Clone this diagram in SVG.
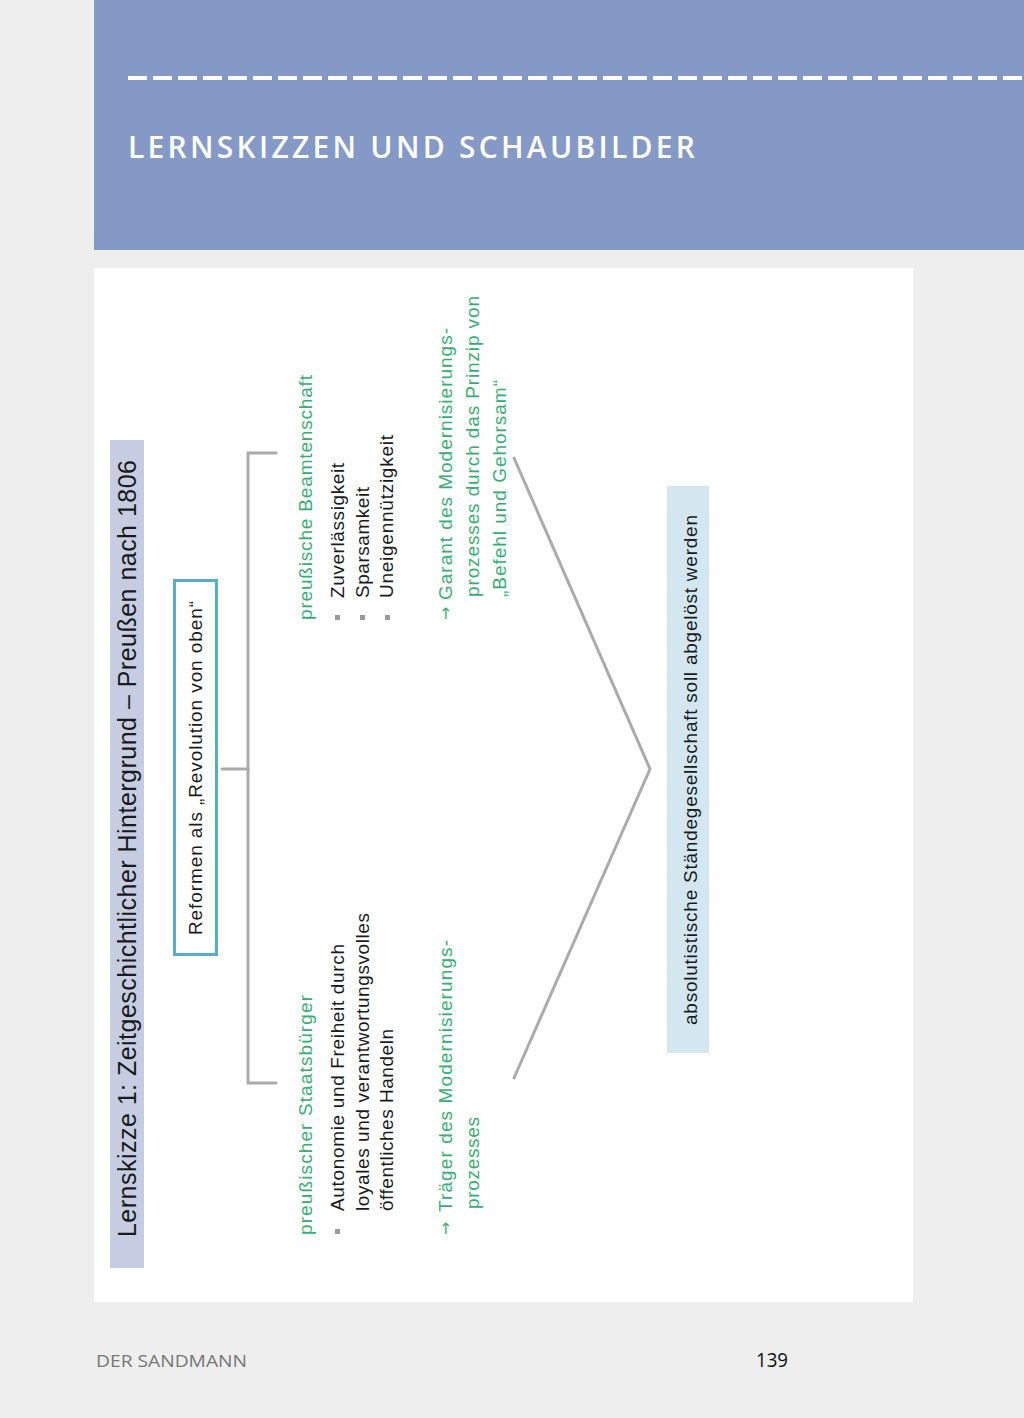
<svg xmlns="http://www.w3.org/2000/svg" width="1024" height="1418" viewBox="0 0 1024 1418">
<style>
.t{font-family:"Liberation Sans",Arial,sans-serif;font-size:19px;fill:#1a1a1a}
.g{font-family:"Liberation Sans",Arial,sans-serif;font-size:19px;fill:#36ad74}
.ar{font-family:"DejaVu Sans",sans-serif;font-size:16px}
.ln{fill:none;stroke:#ababab;stroke-width:3;stroke-linecap:round;stroke-linejoin:miter}
.bul{fill:#9a9a9a}
</style>
<rect x="0" y="0" width="1024" height="1418" fill="#eeeeee"/>
<g id="header">
<rect x="94" y="0" width="930" height="250" fill="#8499c6"/>
<line x1="128" y1="78" x2="1024" y2="78" stroke="#ffffff" stroke-width="4" stroke-dasharray="19 6"/>
<text x="128" y="158" font-family="'Open Sans','Liberation Sans',sans-serif" font-weight="600" font-size="30" fill="#ffffff" textLength="567" lengthAdjust="spacing">LERNSKIZZEN UND SCHAUBILDER</text>
</g>
<rect x="94" y="268" width="819" height="1034" fill="#ffffff"/>
<g id="title">
<rect x="110" y="440" width="34" height="828" fill="#c6cde3"/>
<text class="t" style="font-size:25px" transform="translate(136,1237) rotate(-90)" textLength="777" lengthAdjust="spacing">Lernskizze 1: Zeitgeschichtlicher Hintergrund – Preußen nach 1806</text>
</g>
<g id="reformen">
<rect x="174.5" y="580.5" width="42" height="374" fill="#ffffff" stroke="#5aabc4" stroke-width="3"/>
<text class="t" transform="translate(202,935) rotate(-90)" textLength="334" lengthAdjust="spacing">Reformen als „Revolution von oben“</text>
</g>
<g id="connectors">
<polyline class="ln" points="276,453 248,453 248,1083 276,1083"/>
<line class="ln" x1="222" y1="769" x2="248" y2="769"/>
<polyline class="ln" points="514,458 650,769 514,1078"/>
</g>
<g id="beamtenschaft">
<text class="g" transform="translate(312,620) rotate(-90)" textLength="245" lengthAdjust="spacing">preußische Beamtenschaft</text>
<rect class="bul" x="335" y="615" width="5" height="5"/>
<rect class="bul" x="360" y="615" width="5" height="5"/>
<rect class="bul" x="385" y="615" width="5" height="5"/>
<text class="t" transform="translate(344,598) rotate(-90)" textLength="135" lengthAdjust="spacing">Zuverlässigkeit</text>
<text class="t" transform="translate(368.5,598) rotate(-90)" textLength="111" lengthAdjust="spacing">Sparsamkeit</text>
<text class="t" transform="translate(393,598) rotate(-90)" textLength="163" lengthAdjust="spacing">Uneigennützigkeit</text>
</g>
<g id="garant">
<text class="g ar" transform="translate(451,620) rotate(-90)">→</text>
<text class="g" transform="translate(452,600) rotate(-90)" textLength="272" lengthAdjust="spacing">Garant des Modernisierungs-</text>
<text class="g" transform="translate(479,597) rotate(-90)" textLength="301" lengthAdjust="spacing">prozesses durch das Prinzip von</text>
<text class="g" transform="translate(506,597) rotate(-90)" textLength="217" lengthAdjust="spacing">„Befehl und Gehorsam“</text>
</g>
<g id="staatsbuerger">
<text class="g" transform="translate(312,1235) rotate(-90)" textLength="240" lengthAdjust="spacing">preußischer Staatsbürger</text>
<rect class="bul" x="335" y="1229" width="5" height="5"/>
<text class="t" transform="translate(344,1211) rotate(-90)" textLength="267" lengthAdjust="spacing">Autonomie und Freiheit durch</text>
<text class="t" transform="translate(368.5,1211) rotate(-90)" textLength="298" lengthAdjust="spacing">loyales und verantwortungsvolles</text>
<text class="t" transform="translate(393,1211) rotate(-90)" textLength="182" lengthAdjust="spacing">öffentliches Handeln</text>
</g>
<g id="traeger">
<text class="g ar" transform="translate(451,1235) rotate(-90)">→</text>
<text class="g" transform="translate(452,1212) rotate(-90)" textLength="272" lengthAdjust="spacing">Träger des Modernisierungs-</text>
<text class="g" transform="translate(479,1209) rotate(-90)" textLength="92" lengthAdjust="spacing">prozesses</text>
</g>
<g id="staendegesellschaft">
<rect x="667" y="486" width="42" height="567" fill="#d4e6f0"/>
<text class="t" transform="translate(697,1025) rotate(-90)" textLength="510" lengthAdjust="spacing">absolutistische Ständegesellschaft soll abgelöst werden</text>
</g>
<g id="footer">
<text x="96" y="1367" font-family="'Open Sans','Liberation Sans',sans-serif" font-size="16" fill="#777777" textLength="151" lengthAdjust="spacingAndGlyphs">DER SANDMANN</text>
<text x="756" y="1367" font-family="'Open Sans','Liberation Sans',sans-serif" font-size="20" fill="#111111" textLength="32" lengthAdjust="spacingAndGlyphs">139</text>
</g>
</svg>
